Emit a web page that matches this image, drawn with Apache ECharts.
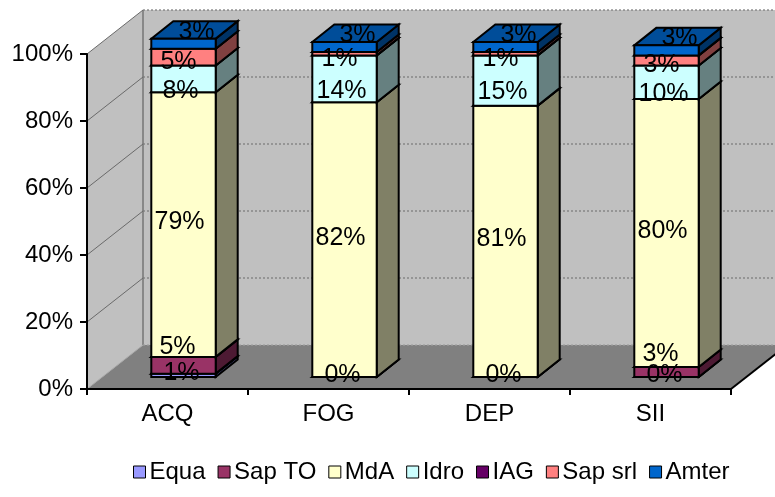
<!DOCTYPE html>
<html>
<head>
<meta charset="utf-8">
<script src="https://cdn.jsdelivr.net/npm/echarts/dist/echarts.min.js"></script>
<style>
  html, body { margin: 0; padding: 0; background: #ffffff; }
  #chart { width: 775px; height: 497px; }
</style>
</head>
<body>
<div id="chart"></div>
<script>
// Categories and the share (%) of each operator within every category
const categories = ['ACQ', 'FOG', 'DEP', 'SII'];
const seriesNames = ['Equa', 'Sap TO', 'MdA', 'Idro', 'IAG', 'Sap srl', 'Amter'];
const equa   = [1, 0, 0, 0];
const sapTo  = [5, null, null, 3];
const mda    = [79, 82, 81, 80];
const idro   = [8, 14, 15, 10];
const iag    = [null, null, null, null];
const sapSrl = [5, 1, 1, 3];
const amter  = [3, 3, 3, 3];
const yTicks = [0, 20, 40, 60, 80, 100];

const seriesValues = [equa, sapTo, mda, idro, iag, sapSrl, amter];
const seriesColors = ['#9999FF', '#993366', '#FFFFCC', '#CCFFFF', '#660066', '#FF8080', '#0066CC'];
// label nudges per series, in pixels from the centre of each front face
const labelShift = [[-2, -2], [-6, -18], [-4, -2], [-3, 12], [0, 0], [-5, 5], [13, -12]];

const FONT = 'Liberation Sans, Arial, Helvetica, sans-serif';
const ROOM_DEPTH = [56, 44];     // pixel depth of the walls/floor
const BAR_SHIFT = [16, -12];     // bar front face offset inside the room
const BAR_DEPTH = [22, 17.5];    // depth of each 3D column
const BAR_FRAC = 0.4;            // column width relative to a category band

function shade(hex, k) {
  const n = parseInt(hex.slice(1), 16);
  const r = Math.round(((n >> 16) & 255) * k);
  const g = Math.round(((n >> 8) & 255) * k);
  const b = Math.round((n & 255) * k);
  return 'rgb(' + r + ',' + g + ',' + b + ')';
}

// stacked ranges [categoryIndex, low, high, value] for every series
const running = categories.map(() => 0);
const stacked = seriesValues.map(vals => {
  const items = [];
  vals.forEach((v, i) => {
    if (v === null || v === undefined) return;
    items.push([i, running[i], running[i] + v, v]);
    running[i] += v;
  });
  return items;
});

// walls, floor and gridlines of the 3D room
function renderRoom(params, api) {
  const cs = params.coordSys;
  const L = cs.x, R = cs.x + cs.width, T = cs.y, B = cs.y + cs.height;
  const dx = ROOM_DEPTH[0], dy = ROOM_DEPTH[1];
  const kids = [];
  kids.push({ type: 'polygon', shape: { points: [[L, B], [L, T], [L + dx, T - dy], [L + dx, B - dy]] },
    style: { fill: '#c0c0c0', stroke: null } });
  kids.push({ type: 'rect', shape: { x: L + dx, y: T - dy, width: R - L, height: B - T },
    style: { fill: '#c0c0c0', stroke: null } });
  kids.push({ type: 'polygon', shape: { points: [[L, B], [R, B], [R + dx, B - dy], [L + dx, B - dy]] },
    style: { fill: '#808080', stroke: null } });
  kids.push({ type: 'line', shape: { x1: L + dx, y1: T - dy, x2: L + dx, y2: B - dy },
    style: { stroke: '#888888', lineWidth: 2 } });
  yTicks.forEach(v => {
    const y = api.coord([0, v])[1];
    kids.push({ type: 'line', shape: { x1: L, y1: y, x2: L + dx, y2: y - dy },
      style: { stroke: v === 0 ? '#a8a8a8' : '#6a6a6a', lineWidth: 1 } });
    kids.push({ type: 'line', shape: { x1: L + dx, y1: y - dy, x2: R + dx, y2: y - dy },
      style: { stroke: v === 0 ? '#a0a0a0' : '#7a7a7a', lineWidth: 1.2, lineDash: [2, 2] } });
  });
  kids.push({ type: 'line', shape: { x1: R, y1: B, x2: R + dx, y2: B - dy },
    style: { stroke: '#000000', lineWidth: 2 } });
  return { type: 'group', children: kids };
}

// one stacked segment drawn as a 3D box: front, side and top faces
function makeRenderSegment(sIdx) {
  const col = seriesColors[sIdx];
  return function (params, api) {
    const cat = api.value(0), lo = api.value(1), hi = api.value(2), val = api.value(3);
    const pLo = api.coord([cat, lo]);
    const pHi = api.coord([cat, hi]);
    const band = api.size([1, 0])[0];
    const w = band * BAR_FRAC;
    const cx = pLo[0] + BAR_SHIFT[0];
    const yb = pLo[1] + BAR_SHIFT[1];
    const yt = pHi[1] + BAR_SHIFT[1];
    const x0 = cx - w / 2, x1 = cx + w / 2;
    const dx = BAR_DEPTH[0], dy = BAR_DEPTH[1];
    const edge = { stroke: '#000000', lineWidth: 2, lineJoin: 'miter' };
    return {
      type: 'group',
      children: [
        { type: 'polygon', shape: { points: [[x1, yb], [x1 + dx, yb - dy], [x1 + dx, yt - dy], [x1, yt]] },
          style: Object.assign({ fill: shade(col, 0.5) }, edge) },
        { type: 'polygon', shape: { points: [[x0, yt], [x1, yt], [x1 + dx, yt - dy], [x0 + dx, yt - dy]] },
          style: Object.assign({ fill: shade(col, 0.75) }, edge) },
        { type: 'rect', shape: { x: x0, y: yt, width: x1 - x0, height: yb - yt },
          style: Object.assign({ fill: col }, edge) },
        { type: 'text', z2: 100,
          style: { text: val + '%', x: cx + labelShift[sIdx][0], y: (yb + yt) / 2 + labelShift[sIdx][1],
            align: 'center', verticalAlign: 'middle', fill: '#000000',
            font: '25px ' + FONT } }
      ]
    };
  };
}

const series = [{
  type: 'custom',
  name: '__room',
  silent: true,
  z: 0,
  renderItem: renderRoom,
  data: [[0, 0]],
  legendHoverLink: false
}];
seriesNames.forEach((name, s) => {
  series.push({
    type: 'custom',
    name: name,
    z: 2,
    itemStyle: { color: seriesColors[s] },
    renderItem: makeRenderSegment(s),
    encode: { x: 0, y: [1, 2] },
    data: stacked[s]
  });
});

const chart = echarts.init(document.getElementById('chart'), null, { renderer: 'canvas' });
chart.setOption({
  animation: false,
  backgroundColor: '#ffffff',
  grid: { left: 87, right: 44, top: 54, bottom: 108, containLabel: false },
  xAxis: {
    type: 'category',
    data: categories,
    z: 10,
    axisLine: { show: true, lineStyle: { color: '#000000', width: 2 } },
    axisTick: { show: true, length: 6, lineStyle: { color: '#000000', width: 2 } },
    axisLabel: { color: '#000000', fontSize: 24, fontFamily: FONT, margin: 13 },
    splitLine: { show: false }
  },
  yAxis: {
    type: 'value',
    min: 0, max: 100, interval: 20,
    z: 10,
    axisLine: { show: true, lineStyle: { color: '#000000', width: 2 } },
    axisTick: { show: true, length: 7, lineStyle: { color: '#000000', width: 2 } },
    axisLabel: { color: '#000000', fontSize: 24, fontFamily: FONT, margin: 14, formatter: '{value}%' },
    splitLine: { show: false }
  },
  legend: {
    data: seriesNames,
    top: 460,
    left: 133,
    padding: 0,
    icon: 'rect',
    itemWidth: 12,
    itemHeight: 12,
    itemGap: 12,
    itemStyle: { borderColor: '#000000', borderWidth: 1 },
    textStyle: { color: '#000000', fontSize: 24, fontFamily: FONT, padding: [0, 0, 0, -1] }
  },
  series: series
});
</script>
</body>
</html>
